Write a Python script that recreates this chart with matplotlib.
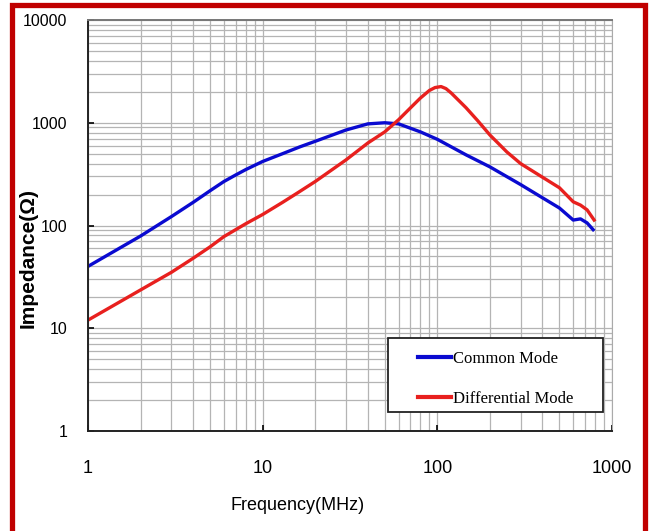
import matplotlib
matplotlib.use("Agg")
import matplotlib.pyplot as plt
from matplotlib.patches import Rectangle

# ---- data (frequency in MHz, impedance in ohm) ----
cm_freq = [1, 2, 3, 4, 5, 6, 7, 8, 10, 13, 16.3, 20, 30, 40, 50, 60, 80, 100,
           146, 200, 300, 400, 500, 600, 660, 720, 780]
cm_imp = [40, 79, 122, 168, 218, 268, 310, 350, 420, 500, 582, 660, 850, 975,
          1000, 975, 815, 690, 487, 372, 250, 186, 148, 113, 116, 106, 91]

dm_freq = [1, 2, 3, 4, 5, 6, 8, 10, 13, 16, 20, 30, 40, 50, 60, 70, 80, 90,
           97, 105, 112, 120, 146, 170, 200, 250, 300, 400, 500, 600, 660,
           720, 790]
dm_imp = [12, 23.6, 35, 48, 62, 78, 104, 128, 168, 210, 268, 435, 635, 815,
          1070, 1390, 1740, 2060, 2200, 2250, 2150, 1950, 1400, 1050, 760,
          520, 400, 295, 233, 170, 158, 142, 113]

x_ticks = [1, 10, 100, 1000]
x_labels = ["1", "10", "100", "1000"]
y_ticks = [1, 10, 100, 1000, 10000]
y_labels = ["1", "10", "100", "1000", "10000"]

sans = "Liberation Sans"
serif = "Liberation Serif"
W, H = 653, 531

fig = plt.figure(figsize=(6.53, 5.31), dpi=100)
ax = fig.add_axes([88 / W, 1 - 431 / H, 524 / W, 411 / H])

ax.plot(cm_freq, cm_imp, color="#0a0ad0", lw=2.4, label="Common Mode")
ax.plot(dm_freq, dm_imp, color="#e8201e", lw=2.4, label="Differential Mode")
ax.set_xscale("log")
ax.set_yscale("log")
ax.set_xlim(1, 1000)
ax.set_ylim(1, 10000)

ax.set_xticks(x_ticks)
ax.set_xticklabels(x_labels, fontfamily=sans, fontsize=13)
ax.set_yticks(y_ticks)
ax.set_yticklabels(y_labels, fontfamily=sans, fontsize=11.5)
ax.tick_params(which="major", direction="in", length=4, width=1.2, pad=15)
ax.tick_params(axis="x", which="major", pad=21)
ax.tick_params(which="minor", length=0)

ax.grid(True, which="both", color="#b4b4b4", lw=0.9)
ax.set_axisbelow(True)

ax.spines["left"].set_color("#222222")
ax.spines["bottom"].set_color("#222222")
ax.spines["left"].set_linewidth(1.4)
ax.spines["bottom"].set_linewidth(1.4)
ax.spines["top"].set_color("#777777")
ax.spines["top"].set_linewidth(1.4)
ax.spines["right"].set_color("#aaaaaa")

# legend frame is wider than its content in the original, so draw it apart
ax.add_patch(Rectangle((388 / W, 1 - 412 / H), 215 / W, 74 / H,
                       transform=fig.transFigure, facecolor="white",
                       edgecolor="#222222", lw=1.3, zorder=4))
leg = ax.legend(loc="upper left", bbox_to_anchor=(418 / W, 1 - 351 / H),
                bbox_transform=fig.transFigure,
                prop={"family": serif, "size": 12}, frameon=False,
                handlelength=2.0, handletextpad=0.1, labelspacing=1.45,
                borderpad=0, borderaxespad=0)
leg.set_zorder(5)
for line in leg.get_lines():
    line.set_linewidth(3)

fig.text(28 / W, 1 - 258 / H, "Impedance(Ω)", rotation=90, ha="center",
         va="center", fontfamily=sans, fontsize=15, fontweight="bold")
fig.text(298 / W, 1 - 506 / H, "Frequency(MHz)", ha="center", va="center",
         fontfamily=sans, fontsize=13)

# red frame around the picture
fig.patches.append(Rectangle((12.5 / W, -0.05), 632 / W, 1.05 - 5.5 / H,
                             transform=fig.transFigure, fill=False,
                             edgecolor="#c00000", lw=3.8, clip_on=False))

fig.savefig("out.png", dpi=100)
